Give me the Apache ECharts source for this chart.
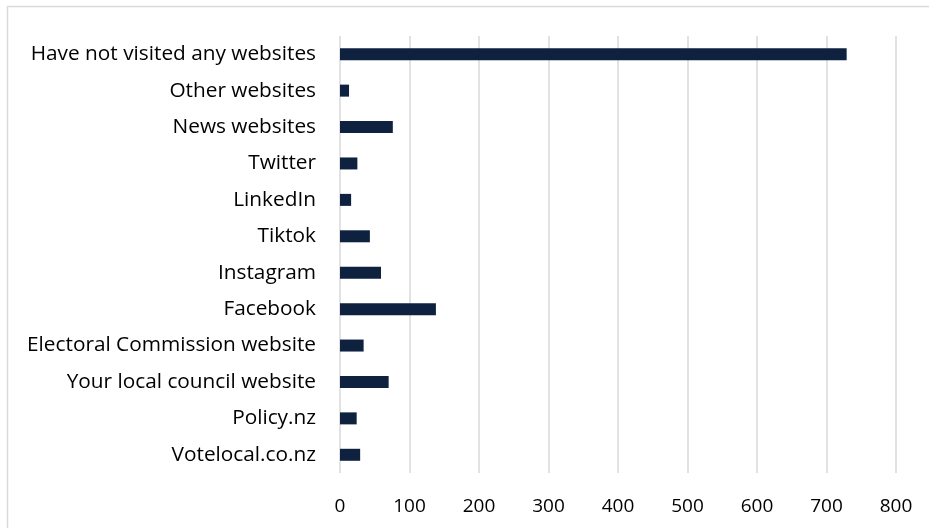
<!DOCTYPE html>
<html>
<head>
<meta charset="utf-8">
<script src="https://cdn.jsdelivr.net/npm/echarts@6/dist/echarts.min.js"></script>
<style>
  html, body { margin: 0; padding: 0; background: #fff; }
  #chart { width: 929px; height: 528px; }
</style>
</head>
<body>
<div id="chart"></div>
<script>
// categories, bottom to top (category axis draws first item at the bottom)
var categories = [
  "Votelocal.co.nz",
  "Policy.nz",
  "Your local council website",
  "Electoral Commission website",
  "Facebook",
  "Instagram",
  "Tiktok",
  "LinkedIn",
  "Twitter",
  "News websites",
  "Other websites",
  "Have not visited any websites"
];
var counts = [29, 24, 70, 34, 138, 59, 43, 16, 25, 76, 13, 729];
var xTicks = { min: 0, max: 800, interval: 100 };

var labelFont = "'Open Sans', 'Noto Sans', sans-serif";

var chart = echarts.init(document.getElementById("chart"), null, { renderer: "canvas" });
chart.setOption({
  animation: false,
  backgroundColor: "#fff",
  graphic: [{
    type: "rect",
    shape: { x: 7.5, y: 6.5, width: 940, height: 540 },
    style: { fill: "none", stroke: "#d9d9d9", lineWidth: 1.5 },
    silent: true
  }],
  grid: { left: 340, right: 33, top: 36, bottom: 55, containLabel: false },
  xAxis: {
    type: "value",
    min: xTicks.min,
    max: xTicks.max,
    interval: xTicks.interval,
    axisLine: { show: false },
    axisTick: { show: false },
    splitLine: { lineStyle: { color: "#d9d9d9", width: 1.5 } },
    axisLabel: { color: "#000", fontFamily: labelFont, fontSize: 19, margin: 24 }
  },
  yAxis: {
    type: "category",
    data: categories,
    axisLine: { show: false },
    axisTick: { show: false },
    axisLabel: { color: "#000", fontFamily: labelFont, fontSize: 20.8, margin: 24 }
  },
  series: [{
    type: "bar",
    data: counts,
    barWidth: 12,
    itemStyle: { color: "#0e2240" }
  }]
});
</script>
</body>
</html>
